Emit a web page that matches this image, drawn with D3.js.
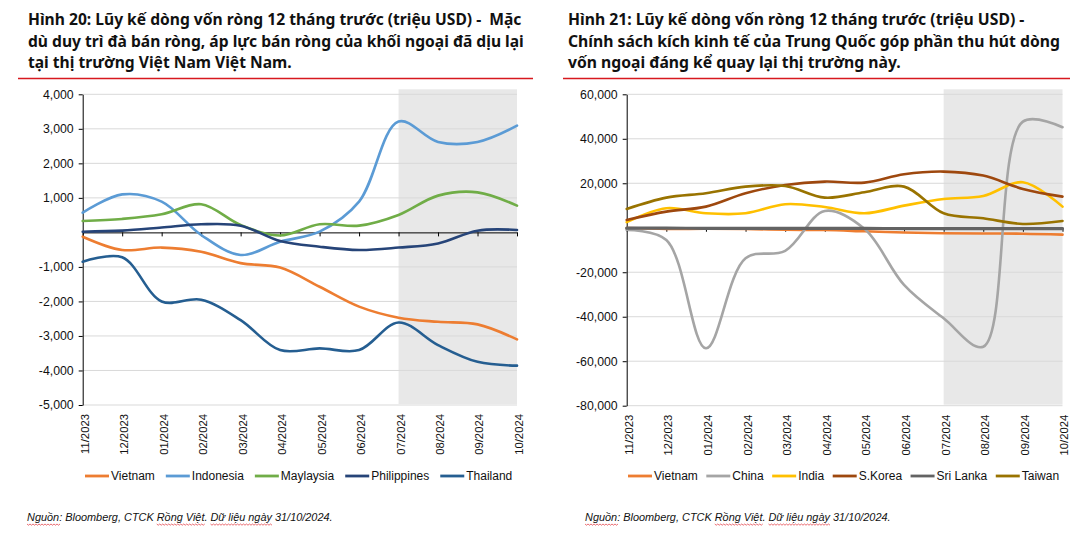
<!DOCTYPE html>
<html><head><meta charset="utf-8">
<script src="https://cdn.jsdelivr.net/npm/d3@7"></script>
<style>body{margin:0;background:#fff}svg{display:block}</style>
</head><body>
<svg id="c" width="1076" height="538"></svg>
<script>
// ---------- DATA ----------
const months = ["11/2023","12/2023","01/2024","02/2024","03/2024","04/2024","05/2024","06/2024","07/2024","08/2024","09/2024","10/2024"];

// Figure 20 (million USD)
const vietnam     = [-125,-510,-440,-560,-890,-1020,-1575,-2150,-2470,-2590,-2665,-3100];
const indonesia   = [570,1100,890,-75,-655,-270,20,890,3210,2620,2620,3090];
const maylaysia   = [330,390,525,815,215,-90,235,195,505,1065,1160,775];
const philippines = [20,50,140,235,195,-250,-415,-510,-440,-320,50,70];
const thailand    = [-850,-720,-2000,-1950,-2540,-3410,-3360,-3410,-2610,-3265,-3750,-3860];

// Figure 21 (million USD)
const vietnam2  = [-125,-510,-440,-560,-890,-1020,-1575,-2150,-2470,-2590,-2665,-3100];
const china     = [-1000,-5500,-54200,-13700,-10400,7550,-500,-25700,-40700,-53500,47700,45200];
const india     = [2500,8800,6500,6500,10600,9300,6500,9950,12900,14300,20450,9500];
const skorea    = [3500,7250,9500,15500,19250,20750,20300,24050,25250,23450,17450,14000];
const srilanka  = [-200,-200,-250,-250,-300,-300,-300,-350,-350,-350,-350,-350];
const taiwan    = [8450,13550,15500,18500,18800,13550,15950,18500,6500,4250,1700,3050];

const leftTicks  = [-5000,-4000,-3000,-2000,-1000,0,1000,2000,3000,4000];
const rightTicks = [-80000,-60000,-40000,-20000,0,20000,40000,60000];

const leftTitle  = ["Hình 20: Lũy kế dòng vốn ròng 12 tháng trước (triệu USD) -  Mặc",
                    "dù duy trì đà bán ròng, áp lực bán ròng của khối ngoại đã dịu lại",
                    "tại thị trường Việt Nam Việt Nam."];
const rightTitle = ["Hình 21: Lũy kế dòng vốn ròng 12 tháng trước (triệu USD) -",
                    "Chính sách kích kinh tế của Trung Quốc góp phần thu hút dòng",
                    "vốn ngoại đáng kể quay lại thị trường này."];
const sourceText = "Nguồn: Bloomberg, CTCK Rồng Việt. Dữ liệu ngày 31/10/2024.";

const leftSeries = [
  {name:"Vietnam", values:vietnam, color:"#ED7D31"},
  {name:"Indonesia", values:indonesia, color:"#5B9BD5"},
  {name:"Maylaysia", values:maylaysia, color:"#70AD47"},
  {name:"Philippines", values:philippines, color:"#264478"},
  {name:"Thailand", values:thailand, color:"#255E91"}
];
const rightSeries = [
  {name:"Vietnam", values:vietnam2, color:"#ED7D31"},
  {name:"China", values:china, color:"#A5A5A5"},
  {name:"India", values:india, color:"#FFC000"},
  {name:"S.Korea", values:skorea, color:"#9E480E"},
  {name:"Sri Lanka", values:srilanka, color:"#636363"},
  {name:"Taiwan", values:taiwan, color:"#997300"}
];

// ---------- DRAW ----------
const svg = d3.select("#c");
const tickFont = "'Liberation Sans', Arial, sans-serif";
const fmt = v => v === 0 ? "" : (v < 0 ? "-" : "") + d3.format(",")(Math.abs(v));

function drawTitle(lines, x0, targetW, redX0, redX1) {
  const g = svg.append("g");
  const texts = lines.map((t,i) => g.append("text")
      .attr("x", x0).attr("y", 25 + i*21.5).style("white-space","pre")
      .attr("font-family","'Noto Sans', sans-serif").attr("font-weight",700)
      .attr("font-size", 16).attr("fill","#111").text(t));
  const w = texts[1].node().getComputedTextLength();
  const fs = Math.min(17.5, 16 * targetW / w);
  texts.forEach(t => t.attr("font-size", fs));
  g.append("line").attr("x1", redX0).attr("x2", redX1).attr("y1", 78.5).attr("y2", 78.5)
    .attr("stroke","#D7191F").attr("stroke-width",1.6);
}

function drawPanel(o) {
  const g = svg.append("g");
  const x = d3.scalePoint().domain(months).range([o.x0, o.x1]).padding(0);
  const y = d3.scaleLinear().domain([o.ticks[0], o.ticks[o.ticks.length-1]]).range([o.yB, o.yT]);
  const xs = x(months[8]);
  g.append("rect").attr("x", xs).attr("y", o.yT - 5).attr("width", o.x1 - xs)
    .attr("height", o.yB - o.yT + 4).attr("fill","#E8E8E8");
  // gridlines
  g.append("g").selectAll("line").data(o.ticks.filter(t => t !== 0)).join("line")
    .attr("x1", o.x0).attr("x2", o.x1).attr("y1", d => y(d)).attr("y2", d => y(d))
    .attr("stroke","#D9D9D9").attr("stroke-width",1);
  // y axis
  const ya = g.append("g").attr("transform", `translate(${o.x0},0)`)
    .call(d3.axisLeft(y).tickValues(o.ticks).tickFormat(fmt).tickSize(4).tickSizeOuter(0).tickPadding(5));
  ya.selectAll("text").attr("font-family", tickFont).attr("font-size", 12.3).attr("fill","#111");
  ya.selectAll("line,path").attr("stroke","#000");
  ya.selectAll(".tick").filter(d => d === 0).select("line").remove();
  // x axis at zero
  const xa = g.append("g").attr("transform", `translate(0,${y(0)})`)
    .call(d3.axisBottom(x).tickFormat("").tickSize(4).tickSizeOuter(0));
  xa.selectAll("line,path").attr("stroke","#000");
  // x labels at bottom
  const xl = g.append("g").attr("transform", `translate(0,${o.yB})`)
    .call(d3.axisBottom(x).tickSize(0));
  xl.select(".domain").remove();
  xl.selectAll("text").attr("transform","rotate(-90)").attr("text-anchor","end")
    .attr("x", -9).attr("y", 1.5).attr("dy","0.35em")
    .attr("font-family", tickFont).attr("font-size", 11.3).attr("fill","#111");
  // lines
  const line = d3.line().x((d,i) => x(months[i])).y(d => y(d)).curve(d3.curveCatmullRom.alpha(0.5));
  g.append("g").selectAll("path").data(o.series).join("path")
    .attr("d", d => line(d.values)).attr("fill","none")
    .attr("stroke", d => d.color).attr("stroke-width", d => d.name === "Sri Lanka" ? 3.2 : 2.6)
    .attr("stroke-linejoin","round").attr("stroke-linecap","round");
  // legend
  const lg = g.append("g").attr("transform", `translate(0,476)`);
  let cx = o.legendX;
  o.series.forEach(s => {
    lg.append("line").attr("x1", cx).attr("x2", cx + 24).attr("y1", 0).attr("y2", 0)
      .attr("stroke", s.color).attr("stroke-width", 2.8);
    const t = lg.append("text").attr("x", cx + 26).attr("y", 4.2)
      .attr("font-family", tickFont).attr("font-size", 12).attr("fill","#111").text(s.name);
    cx += 26 + t.node().getComputedTextLength() + o.legendGap;
  });
  // source
  const st = g.append("text").attr("x", o.srcX).attr("y", 521)
    .attr("font-family", tickFont).attr("font-style","italic").attr("font-size", 11)
    .attr("fill","#111").text(sourceText);
  const sw = st.node().getComputedTextLength();
  st.attr("font-size", 11 * 306 / sw);
  ["Nguồn","Rồng Việt","Dữ liệu ngày"].forEach(word => {
    const i = sourceText.indexOf(word);
    const n = st.node();
    const a = o.srcX + (i > 0 ? n.getSubStringLength(0, i) : 0);
    const w = n.getSubStringLength(i, word.length);
    let p = `M${a},524`;
    for (let k = 0, px = a; px < a + w; k++) { px += 1.5; p += `L${px},${524 + (k % 2 ? 0 : 1.2)}`; }
    g.append("path").attr("d", p).attr("fill","none").attr("stroke","#E0303A").attr("stroke-width",0.7);
  });
}

drawTitle(leftTitle, 28, 496, 18, 533);
drawTitle(rightTitle, 568, 492, 563, 1070);

drawPanel({x0:82.7, x1:517, yT:94.3, yB:405, ticks:leftTicks, series:leftSeries,
           legendX:85, legendGap:11, srcX:27});
drawPanel({x0:626.7, x1:1062.5, yT:94.3, yB:405.7, ticks:rightTicks, series:rightSeries,
           legendX:628, legendGap:8.5, srcX:585});
</script></body></html>
